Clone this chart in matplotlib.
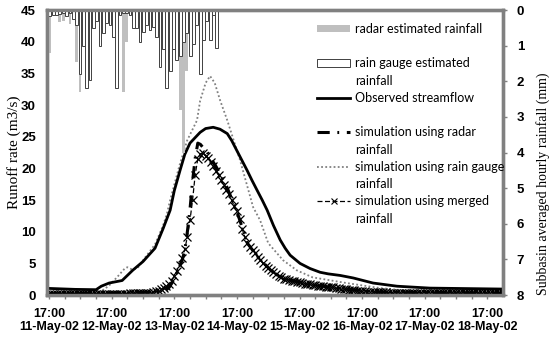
import numpy as np
import matplotlib
matplotlib.use('Agg')
import matplotlib.pyplot as plt
from matplotlib.lines import Line2D
from matplotlib.patches import Patch
from matplotlib.font_manager import FontProperties

#---------------------------- datos (horas desde 11-May-02 17:00) ----------------------------
day_labels = ['17:00\n11-May-02', '17:00\n12-May-02', '17:00\n13-May-02', '17:00\n14-May-02',
              '17:00\n15-May-02', '17:00\n16-May-02', '17:00\n17-May-02', '17:00\n18-May-02']

# lluvia (mm), una barra cada ~1.28 h desde el inicio
gauge_rain = [0.17, 0.15, 0.15, 0.12, 0.09, 0.17, 0.09, 0.24, 0.42, 1.78,
              1.0, 2.2, 1.97, 0.5, 0.3, 1.0, 0.65, 0.37, 0.42, 0.75,
              2.2, 0.15, 0.09, 0.09, 0.15, 0.5, 0.5, 0.9, 0.6, 0.42,
              0.55, 0.47, 0.75, 1.6, 1.1, 2.2, 1.7, 1.1, 1.4, 1.3,
              0.9, 0.65, 1.3, 0.95, 0.42, 1.8, 0.85, 0.3, 0.85, 0.15, 1.07]
radar_rain = [1.2, 0.1, 0.1, 0.33, 0.3, 0.1, 0.4, 0.2, 1.45, 2.3,
              0.6, 1.2, 1.5, 0.3, 0.2, 0.6, 0.4, 0.3, 0.3, 0.5,
              1.0, 0.1, 2.3, 0.9, 0.1, 0.3, 0.3, 0.5, 0.4, 0.3,
              0.4, 0.3, 0.5, 1.0, 0.8, 1.5, 1.2, 0.8, 1.0, 2.8,
              4.0, 1.7, 1.0, 0.8, 0.3, 1.2, 0.5, 0.2, 0.5, 0.1, 0.6]
rain_step = 1.28

obs_h = [0, 10, 18, 20, 23, 28, 32, 36, 40.6, 43.7, 46.4, 48, 50.2, 52, 54, 57.9, 60, 62.9,
         65.5, 68.3, 70, 72, 75.9, 77.8, 79.8, 81.7, 83.6, 86, 88.6, 90.5, 92.4, 96.2, 100,
         103.9, 107, 111.6, 116.6, 124.2, 133.4, 146, 174]
obs_q = [1.05, 0.9, 0.85, 1.4, 1.9, 2.3, 3.9, 5.3, 7.4, 10.5, 13.4, 16.5, 19.7, 22.2, 24.0, 25.7, 26.3, 26.5,
         26.2, 25.5, 24.4, 22.8, 19.7, 18.1, 16.5, 15.0, 13.4, 11.0, 8.7, 7.4, 6.3, 5.0, 4.2,
         3.6, 3.35, 3.1, 2.7, 1.9, 1.4, 1.1, 0.95]

gs_h = [0, 18, 20, 23, 26, 29, 30, 32, 34, 36, 40.6, 43.7, 45.2, 46.4, 50, 52.9, 56.7, 57.9, 60,
        61.7, 63.5, 65.6, 68.3, 73.2, 78.2, 80.9, 84, 89.7, 95, 101, 114, 127, 139.6, 148.8, 174]
gs_q = [0.3, 0.3, 0.6, 1.5, 2.8, 4.2, 4.4, 4.0, 4.3, 5.5, 8.0, 11.0, 12.9, 15.0, 20.5, 24.4, 27.6, 30.7, 33.5,
        34.6, 33.5, 30.7, 27.6, 21.3, 13.9, 11.8, 8.2, 5.5, 3.9, 2.8, 1.9, 1.1, 0.6, 0.5, 0.4]

rs_h = [0, 44, 46, 48, 50, 51, 52, 53, 54, 55, 56, 57, 58, 59, 60, 62, 64, 66, 68, 70, 72,
        76, 80, 85, 90, 100, 110, 125, 174]
rs_q = [0.2, 0.5, 1.2, 2.5, 4.5, 5.5, 7.0, 10.0, 13.5, 18.0, 21.6, 24.0, 23.8, 23.3, 23.0, 21.6, 20.3, 18.8, 17.2, 15.2, 13.2,
        8.2, 6.0, 3.9, 2.6, 1.7, 1.1, 0.5, 0.3]

# simulacion con lluvia combinada, horaria (h = 0..174)
merged_q = ([0.2] * 31 + [0.3] * 8 + [0.4, 0.5, 0.6, 0.7] +
            [0.9, 1.1, 1.4, 1.8, 2.3, 3.0, 3.8, 4.8, 5.8, 7.2, 9.2, 11.8, 15.0, 19.0, 21.5, 22.3, 22.4, 22.0] +
            [21.6, 21.0, 20.4, 19.6, 18.9, 18.1, 17.4, 16.6, 15.9, 15.0, 14.0, 13.2, 12.0, 10.5, 9.2,
             8.2, 7.6, 7.1, 6.6, 6.0, 5.5, 5.0, 4.6, 4.2, 3.9, 3.6, 3.3, 3.0, 2.8, 2.6] +
            [2.5, 2.4, 2.3, 2.2, 2.1, 2.0, 1.9, 1.8, 1.75, 1.7, 1.6, 1.55, 1.5, 1.45, 1.4, 1.35, 1.3, 1.25, 1.2, 1.1,
             1.05, 1.0, 0.95, 0.9, 0.85, 0.8, 0.75, 0.7, 0.65, 0.6, 0.6, 0.55, 0.55, 0.5, 0.5, 0.5, 0.45, 0.45, 0.45, 0.4] +
            [0.4] * 20 + [0.35] * 14 + [0.3] * 10)

#---------------------------- grafico ----------------------------
gris = '#808080'
fp_x = FontProperties(family='Liberation Sans', weight='bold', size=9)
fp_y = FontProperties(family='Liberation Sans', weight='bold', size=9.5)
serif = 'Liberation Serif'
radar_ls = (0, (4, 2.5, 0.6, 2.5))

fig = plt.figure(figsize=(5.5, 3.38), dpi=100)
ax = fig.add_axes([0.0855, 0.127, 0.829, 0.843])
ax2 = ax.twinx()

merged_h = np.arange(len(merged_q))
ax.plot(obs_h, obs_q, color='black', lw=2.0, zorder=4)
ax.plot(gs_h, gs_q, color=gris, lw=1.3, linestyle=(0, (1, 1.3)), zorder=3)
ax.plot(merged_h, merged_q, color='black', lw=0.9, linestyle=(0, (4, 2)), marker='x',
        markersize=6, markeredgewidth=0.9, zorder=3)
ax.plot(rs_h, rs_q, color='black', lw=2.2, linestyle=radar_ls, zorder=5)

ax.set_xlim(-0.8, 174)
ax.set_ylim(0, 45)
ax.set_yticks(np.arange(0, 46, 5))
ax.set_xticks(np.arange(0, 169, 24))
ax.set_xticks(np.arange(0, 174, 6), minor=True)
ax.set_xticklabels(day_labels)
for t in ax.get_xticklabels():
    t.set_fontproperties(fp_x)
for t in ax.get_yticklabels():
    t.set_fontproperties(fp_y)
ax.tick_params(axis='y', length=0, pad=8)
ax.tick_params(axis='x', which='both', length=3, width=1, color=gris, pad=6)
ax.set_ylabel('Runoff rate (m3/s)', family=serif, fontsize=11)
ax.yaxis.set_label_coords(-0.058, 0.5)

bar_h = np.arange(len(gauge_rain)) * rain_step + 0.3
ax2.bar(bar_h, radar_rain, width=rain_step * 0.85, color='#bfbfbf', edgecolor='none', zorder=1)
ax2.bar(bar_h, gauge_rain, width=rain_step * 0.85, color='white', edgecolor='#404040', lw=0.7, zorder=2)
ax2.set_ylim(8, 0)
ax2.set_yticks(range(0, 9))
for t in ax2.get_yticklabels():
    t.set_fontproperties(fp_y)
ax2.tick_params(axis='y', length=3, width=1, color=gris, pad=7)
ax2.set_ylabel('Subbasin averaged hourly rainfall (mm)', family=serif, fontsize=10)
ax2.yaxis.set_label_coords(1.073, 0.39)

for a in (ax, ax2):
    for s in a.spines.values():
        s.set_color(gris)
        s.set_linewidth(2.4)

vacio = Line2D([], [], linestyle='none')
handles = [Patch(facecolor='#bfbfbf', edgecolor='none'), vacio,
           Patch(facecolor='white', edgecolor='#404040', lw=0.7), vacio,
           Line2D([], [], color='black', lw=2.0), vacio,
           Line2D([], [], color='black', lw=2.2, linestyle=radar_ls), vacio,
           Line2D([], [], color=gris, lw=1.3, linestyle=(0, (1, 1.3))), vacio,
           Line2D([], [], color='black', lw=0.9, linestyle=(0, (4, 2)), marker='x', markersize=5,
                  markeredgewidth=0.8), vacio]
labels = ['radar estimated rainfall', ' ', 'rain gauge estimated', 'rainfall', 'Observed streamflow', ' ',
          'simulation using radar', 'rainfall', 'simulation using rain gauge', 'rainfall',
          'simulation using merged', 'rainfall']
leg = ax2.legend(handles, labels, loc='upper left', bbox_to_anchor=(0.592, 0.955), frameon=False,
                 prop={'family': 'Lato', 'size': 9}, handlelength=2.65, handletextpad=0.4,
                 labelspacing=0.42, borderaxespad=0, borderpad=0, handleheight=0.5)

fig.savefig('out.png', dpi=100)
